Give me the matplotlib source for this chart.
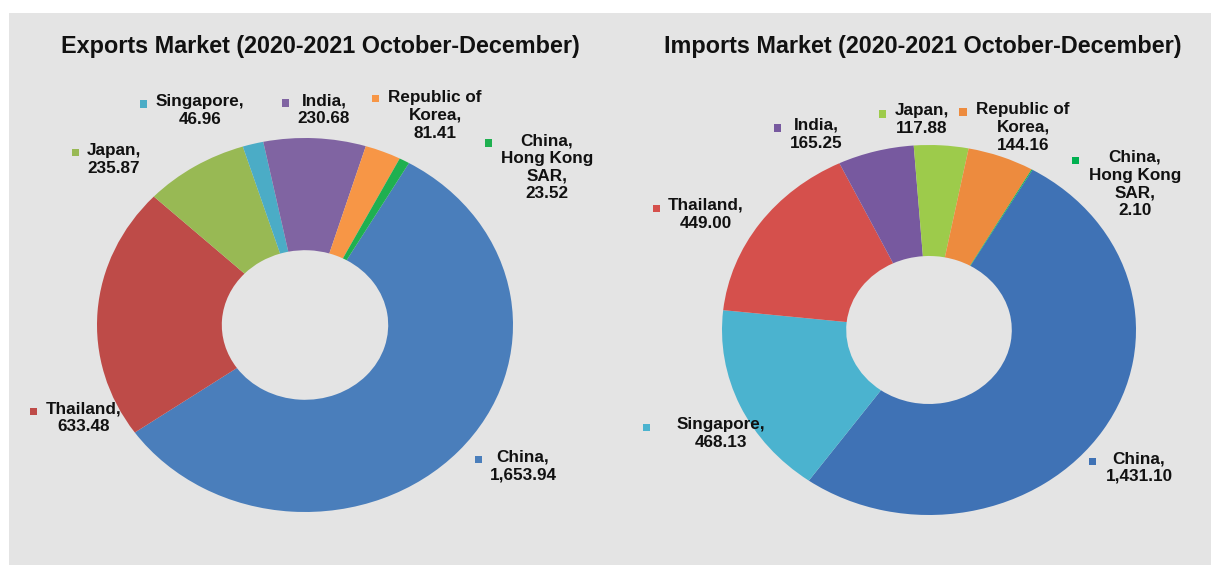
import matplotlib.pyplot as plt
from matplotlib.patches import Rectangle

# ---- data ----
exp_names = ["China", "Thailand", "Japan", "Singapore", "India",
             "Republic of\nKorea", "China,\nHong Kong\nSAR"]
exp_values = [1653.94, 633.48, 235.87, 46.96, 230.68, 81.41, 23.52]
exp_colors = ["#4a7ebb", "#be4b48", "#98b954", "#4bacc6", "#8064a2", "#f79646", "#1fb050"]

imp_names = ["China", "Singapore", "Thailand", "India", "Japan",
             "Republic of\nKorea", "China,\nHong Kong\nSAR"]
imp_values = [1431.10, 468.13, 449.00, 165.25, 117.88, 144.16, 2.10]
imp_colors = ["#3f72b5", "#4bb3cf", "#d5504c", "#77599f", "#9dcb4b", "#ed8b3e", "#00b050"]

# label placement in pixels (text centre of first line, legend key)
exp_text_xy = [(523, 460), (84, 411), (114, 153), (200, 104), (324, 103), (435, 100), (547, 143)]
exp_key_xy = [(478, 459), (33, 411), (75, 153), (143, 104), (285, 103), (375, 99), (488, 143)]
imp_text_xy = [(1139, 461), (721, 427), (706, 208), (816, 128), (922, 113), (1023, 112), (1135, 160)]
imp_key_xy = [(1092, 461), (646, 427), (656, 208), (777, 128), (882, 114), (963, 112), (1075, 160)]

W, H = 1211, 565
BG = "#e4e4e4"

fig = plt.figure(figsize=(W / 100, H / 100), dpi=100, facecolor=BG)
plt.rcParams["font.family"] = ["Liberation Sans", "DejaVu Sans"]

# white margins of the scanned picture
fig.add_artist(Rectangle((0, 1 - 13 / H), 1, 13 / H, transform=fig.transFigure,
                         facecolor="white", edgecolor="none"))
fig.add_artist(Rectangle((0, 0), 9 / W, 1, transform=fig.transFigure,
                         facecolor="white", edgecolor="none"))


def px(x, y):
    return x / W, 1 - y / H


def donut(box, values, colors, names, text_xy, key_xy, title, title_x):
    x0, y0, x1, y1 = box
    ax = fig.add_axes([x0 / W, 1 - y1 / H, (x1 - x0) / W, (y1 - y0) / H])
    ax.pie(values, colors=colors, startangle=60, counterclock=False, radius=1,
           wedgeprops=dict(width=0.6, linewidth=0))
    ax.set_aspect("auto")
    ax.set_xlim(-1, 1)
    ax.set_ylim(-1, 1)
    ax.axis("off")

    for name, v, c, (tx, ty), (kx, ky) in zip(names, values, colors, text_xy, key_xy):
        label = f"{name},\n{v:,.2f}"
        fx, fy = px(tx, ty - 10)
        fig.text(fx, fy, label, ha="center", va="top", fontsize=12.3,
                 fontweight="bold", linespacing=1.23, color="#111111")
        kx0, ky0 = px(kx - 3.5, ky + 3.5)
        fig.add_artist(Rectangle((kx0, ky0), 7 / W, 7 / H, transform=fig.transFigure,
                                 facecolor=c, edgecolor="none"))

    tx, ty = px(title_x, 46)
    fig.text(tx, ty, title, ha="center", va="center", fontsize=16.8,
             fontweight="bold", color="#111111")


donut((97, 138, 513, 512), exp_values, exp_colors, exp_names, exp_text_xy, exp_key_xy,
      "Exports Market (2020-2021 October-December)", 320)
donut((722, 145, 1136, 515), imp_values, imp_colors, imp_names, imp_text_xy, imp_key_xy,
      "Imports Market (2020-2021 October-December)", 923)

fig.savefig("out.png", dpi=100, facecolor=BG)
